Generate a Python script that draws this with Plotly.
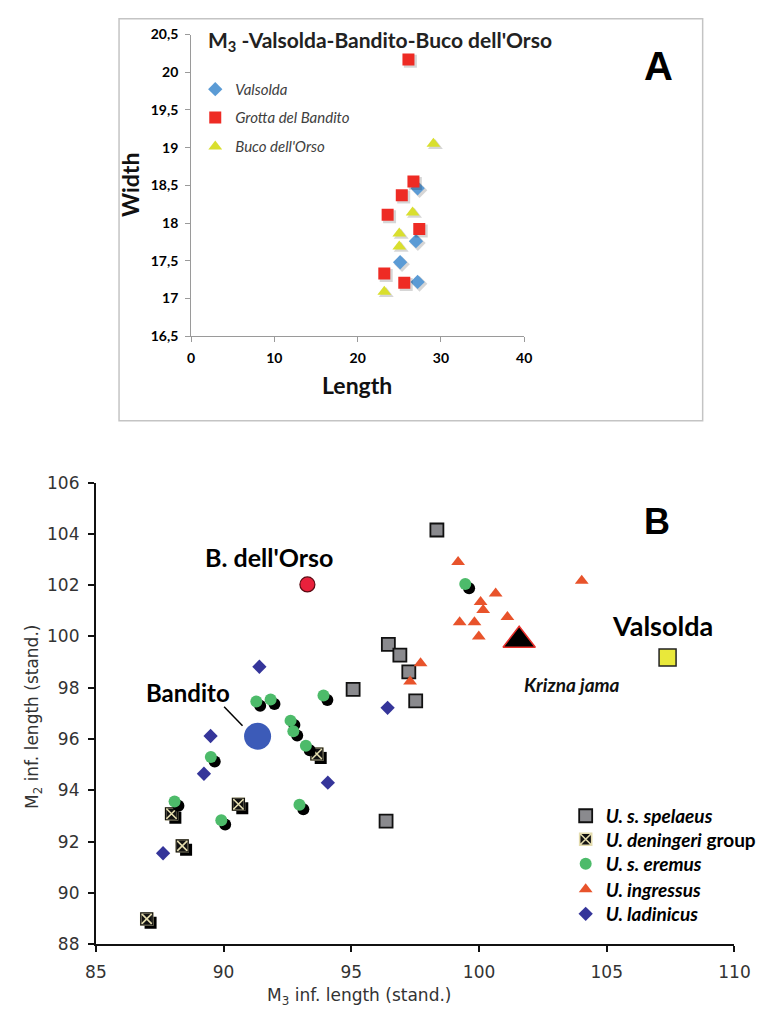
import plotly.graph_objects as go

# ---------------- Panel A data (M3 length / width) ----------------
a_valsolda_len = [27.2, 27.0, 25.1, 27.2]
a_valsolda_wid = [18.46, 17.76, 17.48, 17.22]
a_bandito_len = [26.1, 26.7, 25.3, 23.6, 27.4, 23.2, 25.6]
a_bandito_wid = [20.17, 18.55, 18.37, 18.11, 17.92, 17.33, 17.21]
a_buco_len = [29.1, 26.6, 25.0, 25.0, 23.2]
a_buco_wid = [19.05, 18.14, 17.86, 17.69, 17.09]
a_xticks = [0, 10, 20, 30, 40]
a_yticks = [16.5, 17, 17.5, 18, 18.5, 19, 19.5, 20, 20.5]
a_yticktext = ["16,5", "17", "17,5", "18", "18,5", "19", "19,5", "20", "20,5"]

# ---------------- Panel B data (standardised M3 / M2) ----------------
spelaeus_x = [98.35, 96.45, 96.9, 97.25, 95.07, 97.52, 96.36]
spelaeus_y = [104.15, 99.69, 99.27, 98.62, 97.94, 97.49, 92.8]
deningeri_x = [93.65, 90.58, 87.96, 88.38, 86.99]
deningeri_y = [95.42, 93.46, 93.09, 91.84, 88.99]
eremus_x = [99.46, 91.28, 91.84, 93.91, 92.62, 92.73, 93.22, 89.5, 88.08, 89.91, 92.97]
eremus_y = [102.05, 97.47, 97.54, 97.7, 96.72, 96.31, 95.74, 95.3, 93.57, 92.84, 93.44]
ingressus_x = [99.18, 104.02, 100.65, 100.06, 100.16, 101.11, 99.24, 99.82, 99.99, 97.71, 97.3]
ingressus_y = [102.9, 102.17, 101.68, 101.34, 101.03, 100.76, 100.55, 100.55, 100.0, 98.96, 98.25]
ladinicus_x = [91.4, 96.42, 89.49, 89.23, 94.08, 87.63]
ladinicus_y = [98.82, 97.22, 96.12, 94.65, 94.3, 91.55]
bandito_xy = (91.33, 96.11)
orso_xy = (93.28, 102.03)
valsolda_xy = (107.38, 99.18)
krizna_xy = (101.57, 99.85)
b_xticks = [85, 90, 95, 100, 105, 110]
b_yticks = [88, 90, 92, 94, 96, 98, 100, 102, 104, 106]

W, H = 764, 1021

# pixel geometry of the two plot areas
A_L, A_R, A_T, A_B = 186.7, 532.0, 25.0, 332.7
B_L, B_R, B_T, B_B = 88.0, 750.0, 482.0, 953.0


def px(x):
    return x / W


def py(y):
    return 1 - y / H


# data units per pixel (for shadow offsets)
a_ux = 40 / (A_R - A_L)
a_uy = 4 / (A_B - A_T)
b_ux = 25 / (B_R - B_L)
b_uy = 18 / (B_B - B_T)

fig = go.Figure()

# ---------- Panel A ----------
def a_series(xs, ys, name, symbol, color, size, legend):
    fig.add_trace(go.Scatter(
        x=[v + 2 * a_ux for v in xs], y=[v - 2 * a_uy for v in ys], mode="markers",
        marker=dict(symbol=symbol, size=size + 1, color="rgba(0,0,0,0.16)"),
        xaxis="x", yaxis="y", showlegend=False, hoverinfo="skip"))
    fig.add_trace(go.Scatter(
        x=xs, y=ys, mode="markers", name=name,
        marker=dict(symbol=symbol, size=size, color=color),
        xaxis="x", yaxis="y", legend=legend))

a_series(a_valsolda_len, a_valsolda_wid, "Valsolda", "diamond", "#5b9bd5", 11, "legend")
a_series(a_bandito_len, a_bandito_wid, "Grotta del Bandito", "square", "#ee2b24", 12, "legend2")
a_series(a_buco_len, a_buco_wid, "Buco dell'Orso", "triangle-up", "#d9df2e", 12, "legend3")

# ---------- Panel B ----------
fig.add_trace(go.Scatter(
    x=spelaeus_x, y=spelaeus_y, mode="markers", name="<i>U. s. spelaeus</i>",
    marker=dict(symbol="square", size=13, color="#8a8a8e", line=dict(color="#111", width=1.8)),
    xaxis="x2", yaxis="y2", legend="legend4"))
fig.add_trace(go.Scatter(
    x=[v + 4 * b_ux for v in deningeri_x], y=[v - 4 * b_uy for v in deningeri_y], mode="markers",
    marker=dict(symbol="square", size=12, color="#000"),
    xaxis="x2", yaxis="y2", showlegend=False, hoverinfo="skip"))
fig.add_trace(go.Scatter(
    x=deningeri_x, y=deningeri_y, mode="markers", name="<i>U. deningeri</i> group",
    marker=dict(symbol="square-x", size=12, color="#111", line=dict(color="#e4dcae", width=1.6)),
    xaxis="x2", yaxis="y2", legend="legend5"))
fig.add_trace(go.Scatter(
    x=deningeri_x, y=deningeri_y, mode="markers",
    marker=dict(symbol="square-open", size=12, color="#111", line=dict(color="#111", width=1.2)),
    xaxis="x2", yaxis="y2", showlegend=False, hoverinfo="skip"))
fig.add_trace(go.Scatter(
    x=[v + 4 * b_ux for v in eremus_x], y=[v - 4.5 * b_uy for v in eremus_y], mode="markers",
    marker=dict(symbol="circle", size=12, color="#000"),
    xaxis="x2", yaxis="y2", showlegend=False, hoverinfo="skip"))
fig.add_trace(go.Scatter(
    x=eremus_x, y=eremus_y, mode="markers", name="<i>U. s. eremus</i>",
    marker=dict(symbol="circle", size=12, color="#4dbb6a"),
    xaxis="x2", yaxis="y2", legend="legend6"))
fig.add_trace(go.Scatter(
    x=ingressus_x, y=ingressus_y, mode="markers", name="<i>U. ingressus</i>",
    marker=dict(symbol="triangle-up", size=12, color="#e8532b"),
    xaxis="x2", yaxis="y2", legend="legend7"))
fig.add_trace(go.Scatter(
    x=ladinicus_x, y=ladinicus_y, mode="markers", name="<i>U. ladinicus</i>",
    marker=dict(symbol="diamond", size=11, color="#35359a"),
    xaxis="x2", yaxis="y2", legend="legend8"))
fig.add_trace(go.Scatter(
    x=[bandito_xy[0]], y=[bandito_xy[1]], mode="markers", showlegend=False,
    marker=dict(symbol="circle", size=27, color="#3c5bb8"), xaxis="x2", yaxis="y2"))
fig.add_trace(go.Scatter(
    x=[orso_xy[0]], y=[orso_xy[1]], mode="markers", showlegend=False,
    marker=dict(symbol="circle", size=15, color="#e8213c", line=dict(color="#5a0a12", width=1.2)),
    xaxis="x2", yaxis="y2"))
fig.add_trace(go.Scatter(
    x=[valsolda_xy[0]], y=[valsolda_xy[1]], mode="markers", showlegend=False,
    marker=dict(symbol="square", size=17, color="#e9e83a", line=dict(color="#222", width=1.5)),
    xaxis="x2", yaxis="y2"))
fig.add_trace(go.Scatter(
    x=[krizna_xy[0]], y=[krizna_xy[1]], mode="markers", showlegend=False,
    marker=dict(symbol="triangle-up", size=28, color="#000", line=dict(color="#e8302b", width=1.5)),
    xaxis="x2", yaxis="y2"))

shapes = [
    dict(type="rect", xref="paper", yref="paper", x0=px(112), x1=px(717), y0=py(419), y1=py(9),
         line=dict(color="#c4c4c4", width=1.5)),
    dict(type="line", xref="x2", yref="y2", x0=90.02, y0=97.26, x1=90.74, y1=96.52,
         line=dict(color="#000", width=1.5)),
]


def ann(text, x, y, font, ref="paper", angle=0):
    d = dict(text=text, x=x, y=y, showarrow=False, xanchor="center", yanchor="middle",
             font=font, textangle=angle)
    if ref == "paper":
        d.update(xref="paper", yref="paper")
    else:
        d.update(xref="x2", yref="y2")
    return d


annotations = [
    ann("M<sub>3</sub> -Valsolda-Bandito-Buco dell'Orso", px(383), py(32),
        dict(family="Lato", size=21, color="#222", weight="bold")),
    ann("<b>A</b>", px(671), py(57), dict(family="Liberation Sans", size=40, color="#000")),
    ann("<b>Width</b>", px(124), py(179), dict(family="Lato", size=23, color="#111"), angle=-90),
    ann("<b>Length</b>", px(359), py(383), dict(family="Lato", size=23, color="#111")),
    ann("<b>B</b>", px(670), py(522), dict(family="Liberation Sans", size=36, color="#000")),
    ann("<b>B. dell'Orso</b>", 91.76, 103.1, dict(family="Lato", size=25, color="#000"), ref="b"),
    ann("<b>Bandito</b>", 88.6, 97.8, dict(family="Lato", size=24, color="#000"), ref="b"),
    ann("<b>Valsolda</b>", 107.2, 100.42, dict(family="Lato", size=27, color="#000"), ref="b"),
    ann("<b><i>Krizna jama</i></b>", 103.62, 98.13, dict(family="Lato", size=19, color="#111"), ref="b"),
    ann("M<sub>2</sub> inf. length (stand.)", px(24), py(721),
        dict(family="DejaVu Sans", size=17, color="#333"), angle=-90),
    ann("M<sub>3</sub> inf. length (stand.)", px(361), py(1006),
        dict(family="DejaVu Sans", size=17, color="#333")),
]

a_leg_font = dict(family="Lato", size=15, color="#404040", style="italic")
b_leg_font = dict(family="Lato", size=19, color="#000", weight="bold")


def leg(xp, yp, font):
    return dict(x=px(xp), y=py(yp), xanchor="left", yanchor="middle", bgcolor="rgba(0,0,0,0)",
                borderwidth=0, font=font, itemclick=False, itemdoubleclick=False)


axis_a_font = dict(family="Lato", size=14, color="#000", weight="bold")
axis_b_font = dict(family="DejaVu Sans", size=17, color="#333")

fig.update_layout(
    width=W, height=H, margin=dict(l=0, r=0, t=0, b=0),
    paper_bgcolor="white", plot_bgcolor="white",
    shapes=shapes, annotations=annotations,
    legend=leg(191, 81, a_leg_font),
    legend2=leg(191, 110, a_leg_font),
    legend3=leg(191, 139.5, a_leg_font),
    legend4=leg(575, 822, b_leg_font),
    legend5=leg(575, 846, b_leg_font),
    legend6=leg(575, 871, b_leg_font),
    legend7=leg(575, 897, b_leg_font),
    legend8=leg(575, 922, b_leg_font),
    xaxis=dict(domain=[px(A_L), px(A_R)], range=[0, 40], anchor="y", tickvals=a_xticks,
               showgrid=False, zeroline=False, showline=True, linecolor="#9a9a9a", linewidth=1,
               ticks="outside", ticklen=5, tickcolor="#9a9a9a", ticklabelstandoff=4,
               tickfont=axis_a_font),
    yaxis=dict(domain=[py(A_B), py(A_T)], range=[16.5, 20.5], anchor="x", tickvals=a_yticks,
               ticktext=a_yticktext, showgrid=False, zeroline=False, showline=True,
               linecolor="#9a9a9a", linewidth=1, ticks="outside", ticklen=5, tickcolor="#9a9a9a",
               ticklabelstandoff=4, tickfont=axis_a_font),
    xaxis2=dict(domain=[px(B_L), px(B_R)], range=[85, 110], anchor="y2", tickvals=b_xticks,
                showgrid=False, zeroline=False, showline=True, linecolor="#111", linewidth=2,
                ticks="outside", ticklen=6, tickwidth=2, tickcolor="#111", ticklabelstandoff=5,
                tickfont=axis_b_font),
    yaxis2=dict(domain=[py(B_B), py(B_T)], range=[88, 106], anchor="x2", tickvals=b_yticks,
                showgrid=False, zeroline=False, showline=True, linecolor="#111", linewidth=2,
                ticks="outside", ticklen=6, tickwidth=2, tickcolor="#111", ticklabelstandoff=5,
                tickfont=axis_b_font),
)

fig.write_html("out.html", config={"displayModeBar": False},
               post_script="document.body.style.margin='0';document.body.style.padding='0';")
